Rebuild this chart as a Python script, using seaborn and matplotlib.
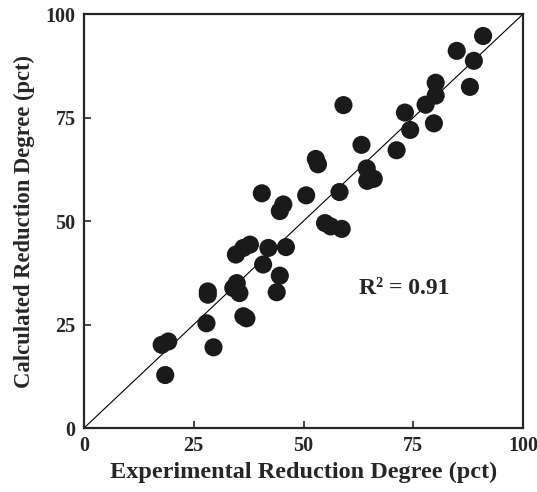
import seaborn as sns
import pandas as pd
import numpy as np
import matplotlib.pyplot as plt

experimental = [18.5, 17.7, 19.2, 27.9, 29.5, 28.2, 28.2, 34.0, 34.8, 35.4,
                36.3, 37.0, 34.6, 36.3, 37.8, 40.8, 42.0, 40.5, 43.9, 44.6,
                44.6, 45.4, 46.0, 50.6, 52.8, 53.3, 54.9, 56.2, 58.7, 58.2,
                59.1, 63.2, 64.4, 64.5, 66.0, 71.2, 73.1, 74.3, 77.8, 79.7,
                80.1, 80.1, 84.9, 87.9, 88.8, 90.9]
calculated = [12.8, 20.1, 20.9, 25.3, 19.5, 33.0, 32.2, 33.8, 35.0, 32.6,
              27.0, 26.5, 41.9, 43.5, 44.3, 39.5, 43.5, 56.7, 32.8, 36.8,
              52.4, 54.0, 43.7, 56.2, 65.0, 63.7, 49.5, 48.7, 48.1, 57.0,
              78.0, 68.4, 62.7, 59.7, 60.2, 67.1, 76.2, 72.0, 78.1, 73.6,
              80.3, 83.4, 91.1, 82.4, 88.7, 94.7]
ticks = [0, 25, 50, 75, 100]

df = pd.DataFrame({'Experimental': experimental, 'Calculated': calculated})

sns.set_style("ticks")
plt.rcParams['font.family'] = ['Liberation Serif', 'DejaVu Serif']
plt.rcParams['font.weight'] = 'bold'

fig = plt.figure(figsize=(5.37, 4.92), dpi=100)
ax = fig.add_axes([0.1564, 0.130, 0.8176, 0.8415])

ax.plot([0, 100], [0, 100], color='black', lw=0.8, zorder=1)
sns.scatterplot(data=df, x='Experimental', y='Calculated', ax=ax,
                s=170, color='#1a1a1a', edgecolor='none', zorder=2)

ax.set_xlim(0, 100)
ax.set_ylim(0, 100)
ax.set_xticks(ticks)
ax.set_yticks(ticks)
ax.tick_params(direction='in', length=5, width=1.2, labelsize=14.5, pad=6)
for lab in ax.get_xticklabels() + ax.get_yticklabels():
    lab.set_fontweight('bold')
for sp in ax.spines.values():
    sp.set_linewidth(1.6)
    sp.set_visible(True)

ax.set_xlabel("Experimental Reduction Degree (pct)", fontsize=17.5, fontweight='bold', labelpad=4)
ax.set_ylabel("Calculated Reduction Degree (pct)", fontsize=16.3, fontweight='bold', labelpad=8)
ax.text(62.7, 33.6, "R² = 0.91", fontsize=17, fontweight='bold', va='center', ha='left')

plt.savefig("out.png", dpi=100)
